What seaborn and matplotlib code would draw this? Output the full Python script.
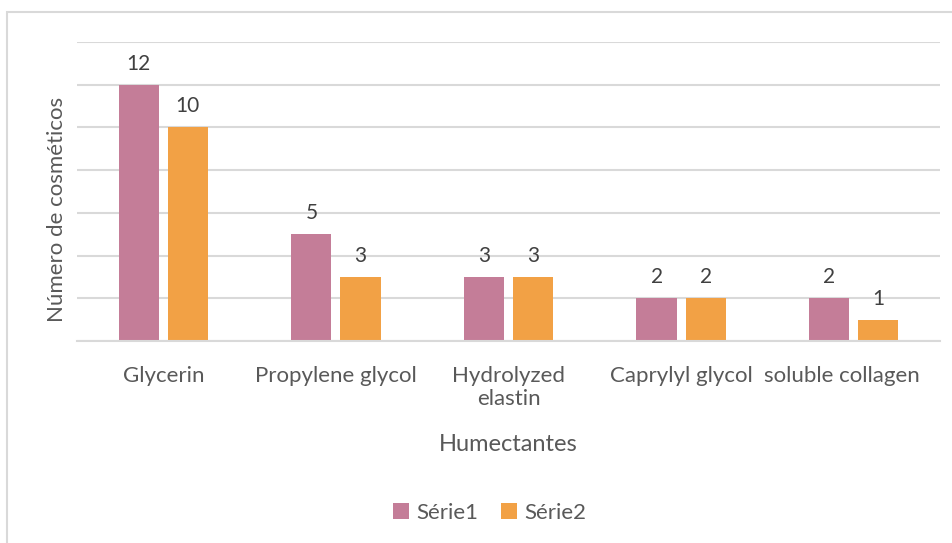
import matplotlib
matplotlib.use("Agg")
import matplotlib.pyplot as plt
import matplotlib.transforms as mtransforms
import seaborn as sns
import pandas as pd
from matplotlib.patches import Rectangle

# dados
humectantes = ["Glycerin", "Propylene glycol", "Hydrolyzed\nelastin",
               "Caprylyl glycol", "soluble collagen"]
serie1 = [12, 5, 3, 2, 2]
serie2 = [10, 3, 3, 2, 1]
series = ["Série1", "Série2"]

df = pd.DataFrame({
    "Humectantes": humectantes * 2,
    "valor": serie1 + serie2,
    "serie": [series[0]] * len(serie1) + [series[1]] * len(serie2),
})

sns.set_theme(style="white")
plt.rcParams["font.family"] = ["Lato", "DejaVu Sans"]

fig = plt.figure(figsize=(9.53, 5.43), dpi=100)
ax = fig.add_axes([77 / 953, 1 - 341 / 543, (940 - 77) / 953, (341 - 42) / 543])

cores = ["#C47D98", "#F2A145"]
sns.barplot(data=df, x="Humectantes", y="valor", hue="serie", palette=cores,
            width=0.568, gap=0.18, ax=ax, legend=True, saturation=1, linewidth=0)

for c in ax.containers:
    ax.bar_label(c, padding=8, fontsize=15, color="#404040")

ax.set_ylim(0, 14)
ax.set_xlim(-0.5, 4.5)
ax.set_yticks(range(0, 15, 2))
ax.set_yticklabels([])
ax.tick_params(axis="y", length=0)
ax.tick_params(axis="x", length=0, labelsize=16, labelcolor="#595959", pad=18)
ax.yaxis.grid(True, color="#D9D9D9", linewidth=1.5)
ax.set_axisbelow(True)
for s in ["top", "right", "left"]:
    ax.spines[s].set_visible(False)
ax.spines["bottom"].set_color("#D9D9D9")
ax.spines["bottom"].set_linewidth(1.5)

# o último rótulo fica um pouco à esquerda no original
lab = ax.get_xticklabels()[4]
lab.set_transform(lab.get_transform() +
                  mtransforms.ScaledTranslation(-12 / 100, 0, fig.dpi_scale_trans))

ax.set_xlabel("Humectantes", fontsize=17, color="#595959", labelpad=18)
ax.set_ylabel("Número de cosméticos", fontsize=16, color="#595959")
ax.yaxis.set_label_coords(-0.012, 0.44)

ax.legend_.remove()
h, l = ax.get_legend_handles_labels()
fig.legend(h, l, loc="center", bbox_to_anchor=(0.514, 1 - 513 / 543), ncol=2,
           frameon=False, fontsize=16, labelcolor="#595959",
           handlelength=0.7, handleheight=0.7, handletextpad=0.35,
           columnspacing=1.0)

# borda da área do gráfico
fig.patches.append(Rectangle((7 / 953, -0.1), 1.2, 1.1 - 12 / 543,
                             transform=fig.transFigure, fill=False,
                             edgecolor="#D9D9D9", linewidth=1.5))

fig.savefig("out.png", dpi=100)
